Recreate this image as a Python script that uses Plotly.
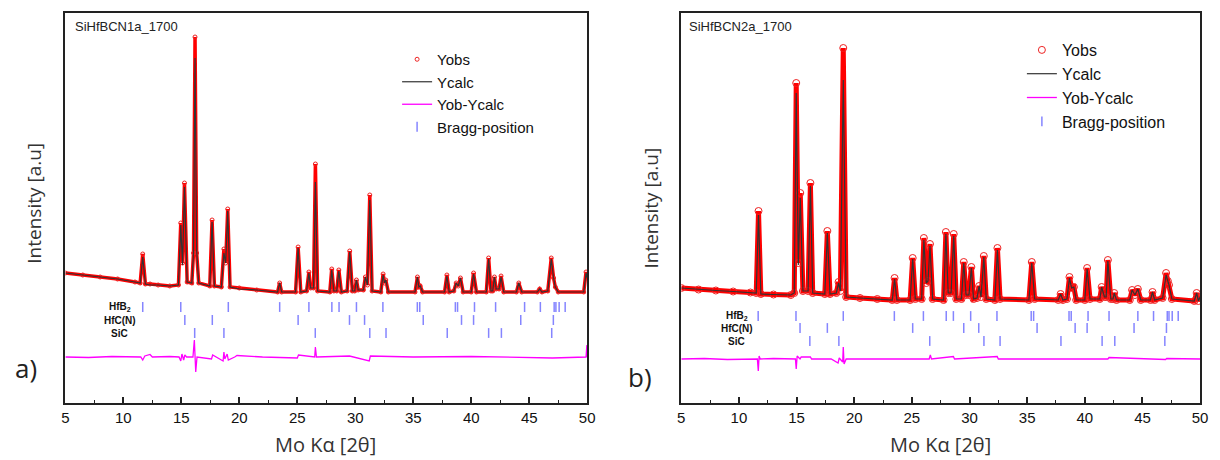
import plotly.graph_objects as go

# ---------------- data ----------------
# Panel a) SiHfBCN1a_1700
two_theta_a = [5.0, 6.5, 8.0, 9.5, 11.0, 11.45, 11.67, 11.9, 12.3, 13.0, 14.0, 14.75, 14.95, 15.1, 15.27,
               15.5, 15.9, 16.05, 16.18, 16.32, 16.5, 17.45, 17.65, 17.85, 18.45, 18.67, 18.82, 19.0, 19.2,
               20.0, 21.5, 23.3, 23.48, 23.65, 24.85, 25.07, 25.3, 25.8, 26.0, 26.15, 26.4, 26.56, 26.75,
               27.8, 27.97, 28.15, 28.4, 28.58, 28.8, 29.3, 29.52, 29.75, 29.95, 30.1, 30.25, 30.7, 30.87,
               31.05, 31.25, 31.45, 32.2, 32.4, 32.52, 32.63, 32.85, 35.15, 35.36, 35.48, 35.6, 35.8, 37.7,
               37.9, 38.1, 38.5, 38.7, 38.88, 39.07, 39.3, 40.0, 40.2, 40.45, 41.3, 41.5, 41.7, 41.85, 42.0,
               42.15, 42.4, 42.57, 42.8, 43.9, 44.1, 44.35, 45.7, 45.9, 46.1, 46.6, 46.9, 47.1, 47.25, 47.5,
               49.7, 49.9, 50.0]
yobs_a = [130, 128, 126, 124, 121, 120, 149, 119, 119, 118, 117, 118, 180, 140, 220,
          121, 120, 150, 366, 150, 120, 117, 183, 117, 116, 154, 140, 194, 116,
          115, 113, 111, 120, 111, 111, 156, 111, 112, 131, 115, 115, 239, 112,
          111, 134, 112, 112, 133, 111, 112, 152, 112, 112, 123, 113, 113, 126,
          118, 208, 112, 111, 129, 120, 123, 111, 111, 126, 116, 117, 111, 111,
          128, 111, 112, 120, 117, 125, 111, 111, 130, 111, 111, 145, 112, 112, 126,
          114, 114, 127, 111, 111, 120, 111, 111, 114, 111, 112, 145, 125, 116, 111,
          111, 131, 125]
ycalc_a = [130, 128, 126, 124, 121, 120, 146, 119, 118, 118, 117, 118, 178, 138, 216,
           121, 120, 150, 345, 152, 120, 117, 181, 117, 116, 150, 140, 192, 116,
           114, 113, 111, 120, 111, 111, 155, 111, 112, 130, 115, 115, 221, 112,
           111, 133, 112, 112, 132, 111, 112, 151, 112, 112, 123, 113, 113, 126,
           118, 203, 112, 111, 128, 120, 123, 111, 111, 126, 116, 117, 111, 111,
           127, 111, 112, 120, 117, 125, 111, 111, 129, 111, 111, 144, 112, 112, 126,
           114, 114, 126, 111, 111, 120, 111, 111, 114, 111, 112, 144, 125, 116, 111,
           111, 130, 125]
diff_x_a = [5.0, 7.0, 9.0, 11.5, 11.67, 11.85, 12.3, 12.5, 14.0, 14.8, 14.95, 15.05, 15.2, 15.3, 15.45,
            16.0, 16.12, 16.18, 16.24, 16.35, 17.6, 17.7, 18.6, 18.67, 18.75, 18.95, 19.05, 19.6, 19.8,
            22.0, 25.0, 25.1, 26.5, 26.56, 26.65, 29.5, 31.2, 31.3, 35.0, 40.0, 42.5, 47.0, 49.9, 49.97, 50.0]
diff_y_a = [46, 45.5, 46.5, 46, 43, 47, 48.5, 46, 46.5, 46, 42, 49, 43, 48, 46,
            46, 63, 46, 31, 46, 44, 48, 42, 51, 44, 49, 43, 46, 47.5,
            46, 45, 48, 46, 56, 46, 47, 42, 47, 46, 46.5, 46, 45, 46, 58, 46]

# Panel b) SiHfBCN2a_1700
two_theta_b = [5.0, 6.5, 8.0, 9.5, 11.0, 11.5, 11.7, 11.9, 13.0, 14.5, 14.8, 14.97, 15.15, 15.32, 15.55,
               16.0, 16.2, 16.4, 17.45, 17.67, 17.9, 18.45, 18.64, 18.8, 19.05, 19.3, 20.5, 22.0, 23.3,
               23.5, 23.7, 24.85, 25.07, 25.3, 25.85, 26.04, 26.25, 26.4, 26.57, 26.8, 27.75, 27.95, 28.15,
               28.4, 28.63, 28.85, 29.3, 29.5, 29.7, 29.95, 30.16, 30.35, 30.65, 30.83, 31.0, 31.24, 31.45,
               32.2, 32.42, 32.65, 35.15, 35.4, 35.65, 37.7, 37.9, 38.1, 38.45, 38.67, 38.85, 39.05, 39.25,
               40.0, 40.2, 40.45, 41.3, 41.46, 41.7, 41.85, 42.0, 42.25, 42.45, 42.55, 42.75, 43.9, 44.1,
               44.35, 44.6, 44.85, 45.7, 45.87, 46.05, 46.75, 47.05, 47.2, 47.3, 47.55, 49.5, 49.7, 49.85, 50.0]
yobs_b = [115, 113.5, 112.5, 111.5, 110.5, 110, 192, 109, 108.5, 108, 110, 320, 140, 210, 112,
          112, 220, 110, 109, 172, 109, 110, 121, 112, 355, 106, 105, 104, 103,
          125, 103, 103, 145, 104, 104, 165, 120, 122, 159, 104, 103, 171, 110,
          110, 169, 104, 104, 141, 108, 108, 136, 104, 105, 117, 106, 147, 104,
          103, 155, 104, 103, 141, 104, 103, 109, 103, 104, 126, 115, 116, 103,
          103, 135, 104, 104, 116, 106, 106, 143, 104, 104, 110, 103, 103, 113,
          108, 114, 103, 103, 111, 103, 105, 130, 122, 118, 104, 102, 110, 102, 106]
ycalc_b = [115, 113.5, 112.5, 111.5, 110.5, 110, 188, 109, 108.5, 108, 110, 310, 138, 205, 112,
           112, 217, 110, 109, 170, 109, 110, 120, 112, 323, 106, 105, 104, 103,
           124, 103, 103, 144, 104, 104, 163, 120, 122, 157, 104, 103, 169, 110,
           110, 167, 104, 104, 140, 108, 108, 135, 104, 105, 117, 106, 146, 104,
           103, 153, 104, 103, 140, 104, 103, 109, 103, 104, 125, 115, 116, 103,
           103, 134, 104, 104, 116, 106, 106, 142, 104, 104, 110, 103, 103, 113,
           108, 114, 103, 103, 111, 103, 105, 128, 122, 118, 104, 102, 110, 102, 106]
diff_x_b = [5.0, 7.0, 9.0, 11.6, 11.68, 11.75, 11.85, 13.0, 14.9, 14.97, 15.05, 15.3, 15.4, 16.2, 16.3,
            18.0, 18.6, 18.7, 19.0, 19.05, 19.12, 19.3, 22.0, 26.5, 26.6, 26.7, 28.6, 28.7, 32.4, 32.5,
            36.0, 40.0, 42.0, 42.1, 45.0, 47.0, 47.1, 50.0]
diff_y_b = [44, 44.5, 43.5, 44, 32, 47, 44, 44.5, 44, 34, 47, 44, 46, 46, 44,
            44, 40, 45, 41, 56, 39, 44, 44, 44, 48, 44, 46.5, 44, 46.5, 44,
            44, 44, 44, 45.5, 44, 43.5, 44.5, 44]

# Bragg reflection positions (same phases in both samples)
bragg_hfb2 = [11.67, 14.95, 19.05, 23.48, 26.0, 27.98, 28.6, 30.1, 32.38, 35.35, 35.56, 38.63, 38.82,
              40.28, 42.1, 44.6, 45.96, 47.15, 47.3, 47.58, 48.1]
bragg_hfcn = [15.3, 17.67, 25.07, 29.5, 30.8, 35.86, 39.16, 40.2, 44.27, 47.08]
bragg_sic = [16.15, 18.67, 26.55, 31.25, 32.65, 37.93, 41.5, 42.6, 46.94]
phase_names = ["HfB<sub>2</sub>", "HfC(N)", "SiC"]
bragg_rows_a = [96, 83, 70]
bragg_rows_b = [87, 75, 62]

x_ticks = [5, 10, 15, 20, 25, 30, 35, 40, 45, 50]
sample_names = ["SiHfBCN1a_1700", "SiHfBCN2a_1700"]
panel_tags = ["a)", "b)"]

# ---------------- layout helpers ----------------
W, H = 1220, 460


def px(x):
    return x / W


def py(y):
    return 1 - y / H


RED = "#ff0000"
CALC = "#333333"
MAG = "#ff00ff"
BRAGG = "#8585ff"

fig = go.Figure()

panels = [
    dict(xa="x", ya="y", lg="legend", tt=two_theta_a, yo=yobs_a, yc=ycalc_a, dx=diff_x_a, dy=diff_y_a,
         rows=bragg_rows_a, band=3.5, msize=4),
    dict(xa="x2", ya="y2", lg="legend2", tt=two_theta_b, yo=yobs_b, yc=ycalc_b, dx=diff_x_b, dy=diff_y_b,
         rows=bragg_rows_b, band=5, msize=7),
]

for p in panels:
    # thick red band of observed points
    fig.add_trace(go.Scatter(x=p["tt"], y=p["yo"], mode="lines", xaxis=p["xa"], yaxis=p["ya"],
                             line=dict(color=RED, width=p["band"]), showlegend=False, hoverinfo="skip"))
    fig.add_trace(go.Scatter(x=p["tt"], y=p["yo"], mode="markers", name="Yobs", xaxis=p["xa"], yaxis=p["ya"],
                             legend=p["lg"],
                             marker=dict(symbol="circle-open", size=p["msize"], color="#ee2222",
                                         line=dict(width=1, color="#ee2222"))))
    fig.add_trace(go.Scatter(x=p["tt"], y=p["yc"], mode="lines", name="Ycalc", xaxis=p["xa"], yaxis=p["ya"],
                             legend=p["lg"], line=dict(color=CALC, width=1.2)))
    fig.add_trace(go.Scatter(x=p["dx"], y=p["dy"], mode="lines", name="Yob-Ycalc", xaxis=p["xa"],
                             yaxis=p["ya"], legend=p["lg"], line=dict(color=MAG, width=1.3)))
    for i, pos in enumerate([bragg_hfb2, bragg_hfcn, bragg_sic]):
        fig.add_trace(go.Scatter(x=pos, y=[p["rows"][i]] * len(pos), mode="markers", name="Bragg-position",
                                 xaxis=p["xa"], yaxis=p["ya"], legend=p["lg"], legendgroup="bragg" + p["lg"],
                                 showlegend=(i == 0),
                                 marker=dict(symbol="line-ns", size=7, color=BRAGG,
                                             line=dict(width=1.5, color=BRAGG))))

ydom = [py(403), py(13)]
axis_common = dict(range=[5, 50], tickvals=x_ticks, ticks="inside", ticklen=6, tickwidth=1.5,
                   tickcolor="#222", showline=True, linecolor="#222", linewidth=1.5, mirror=True,
                   showgrid=False, zeroline=False,
                   tickfont=dict(family="Liberation Sans, Arial", size=15, color="#111"),
                   minor=dict(dtick=2.5, tick0=5, ticks="inside", ticklen=3, tickwidth=1.2, tickcolor="#222"))
yaxis_common = dict(range=[0, 390], showticklabels=False, ticks="", showline=True, linecolor="#222",
                    linewidth=1.5, mirror=True, showgrid=False, zeroline=False, domain=ydom)

fig.update_layout(
    width=W, height=H, margin=dict(l=0, r=0, t=0, b=0),
    paper_bgcolor="white", plot_bgcolor="white",
    xaxis=dict(domain=[px(62), px(589)], anchor="y", **axis_common),
    yaxis=dict(anchor="x", **yaxis_common),
    xaxis2=dict(domain=[px(684), px(1208)], anchor="y2", **axis_common),
    yaxis2=dict(anchor="x2", **yaxis_common),
    legend=dict(x=px(397), y=py(43), xanchor="left", yanchor="top", bgcolor="rgba(0,0,0,0)",
                font=dict(family="Liberation Sans, Arial", size=15, color="#111"),
                tracegroupgap=0, itemwidth=30),
    legend2=dict(x=px(1028), y=py(33), xanchor="left", yanchor="top", bgcolor="rgba(0,0,0,0)",
                 font=dict(family="Liberation Sans, Arial", size=16, color="#111"),
                 tracegroupgap=0, itemwidth=30),
    showlegend=True,
)

ann = []
# sample names
ann.append(dict(x=px(70), y=py(27), text=sample_names[0], showarrow=False, xanchor="left", yanchor="middle",
                font=dict(family="Liberation Sans, Arial", size=13, color="#222"), xref="paper", yref="paper"))
ann.append(dict(x=px(690), y=py(26), text=sample_names[1], showarrow=False, xanchor="left", yanchor="middle",
                font=dict(family="Liberation Sans, Arial", size=13, color="#222"), xref="paper", yref="paper"))
# phase labels
for (cx, ys) in [(117, [307, 320, 333]), (740, [316, 328, 341])]:
    for name, yy in zip(phase_names, ys):
        ann.append(dict(x=px(cx), y=py(yy), text="<b>" + name + "</b>", showarrow=False, xanchor="center",
                        yanchor="middle", font=dict(family="Liberation Sans, Arial", size=10, color="#111"),
                        xref="paper", yref="paper"))
# axis titles
for cx in [325, 946]:
    ann.append(dict(x=px(cx), y=py(444), text="Mo Kα [2θ]", showarrow=False, xanchor="center",
                    yanchor="middle", font=dict(family="Open Sans", size=20, color="#333"),
                    xref="paper", yref="paper"))
for cx, cy in [(30, 203), (653, 208)]:
    ann.append(dict(x=px(cx), y=py(cy), text="Intensity [a.u]", showarrow=False, textangle=-90,
                    xanchor="center", yanchor="middle", font=dict(family="Open Sans", size=19, color="#333"),
                    xref="paper", yref="paper"))
for tag, cx, cy in [(panel_tags[0], 22, 368), (panel_tags[1], 642, 377)]:
    ann.append(dict(x=px(cx), y=py(cy), text=tag, showarrow=False, xanchor="center", yanchor="middle",
                    font=dict(family="Open Sans", size=26, color="#222"), xref="paper", yref="paper"))

fig.update_layout(annotations=ann)
fig.write_html("out.html")
